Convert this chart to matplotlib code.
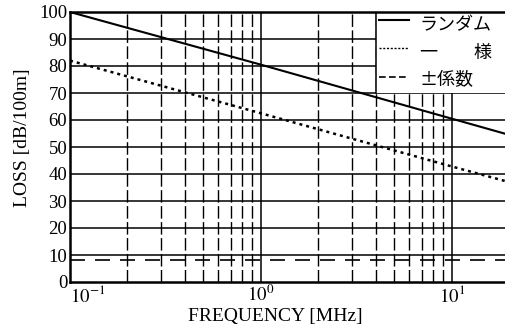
import matplotlib
matplotlib.use("Agg")
import matplotlib.pyplot as plt
import numpy as np
from matplotlib.patches import Rectangle

# Cable loss vs frequency
freq_mhz = [0.1, 1.0, 10.0, 20.0]
loss_random = [100.0, 80.5, 60.5, 54.5]
loss_uniform = [82.0, 62.5, 42.8, 37.0]
loss_pm_coef = [8.2, 8.2, 8.2, 8.2]

series_labels = ["ランダム", "一　　様", "±係数"]
y_ticks = [0, 10, 20, 30, 40, 50, 60, 70, 80, 90, 100]
x_major = [0.1, 1.0, 10.0]
x_major_labels = [r"$10^{-1}$", r"$10^{0}$", r"$10^{1}$"]

plt.rcParams["font.family"] = ["Liberation Serif", "DejaVu Serif"]
plt.rcParams["mathtext.fontset"] = "stix"

fig = plt.figure(figsize=(5.06, 3.36), dpi=100)
ax = fig.add_axes([70 / 506, 1 - 282 / 336, 1 - 70 / 506 + 0.002, (282 - 12) / 336])
ax.set_xscale("log")
ax.set_xlim(0.1, 19.5)
ax.set_ylim(0, 100)

# grid: solid horizontal, broken vertical minor, solid vertical major
for y in y_ticks[1:]:
    ax.axhline(y, color="black", lw=1.1, zorder=1)
minors = [m * d for d in (0.1, 1.0, 10.0) for m in range(2, 10) if m * d < 19.5]
for x in minors:
    ax.axvline(x, color="black", lw=1.0, ls=(0, (9, 2.5)), zorder=1)
for x in x_major[1:]:
    ax.axvline(x, color="black", lw=1.1, zorder=1)

# blank area holding the legend
ax.add_patch(Rectangle((4.0, 70.0), 20.0, 31.0, facecolor="white", edgecolor="none", zorder=2))
ax.plot([4.0, 4.0], [70, 100], color="black", lw=1.1, zorder=3)

ax.plot(freq_mhz, loss_random, color="black", lw=1.5, zorder=4)
ax.plot(freq_mhz, loss_uniform, color="black", lw=1.8, ls=(0, (1.2, 1.6)), zorder=4)
ax.plot(freq_mhz, loss_pm_coef, color="black", lw=1.2, ls=(0, (9, 6)), zorder=4)

# legend entries
styles = [dict(lw=1.5, ls="-"), dict(lw=1.0, ls=(0, (1.5, 1.2))), dict(lw=1.2, ls=(0, (4, 2)))]
handle_y = [97.0, 86.7, 76.0]
text_y = [95.2, 84.8, 74.8]
for lab, st, hy, ty in zip(series_labels, styles, handle_y, text_y):
    ax.plot([4.15, 6.0], [hy, hy], color="black", zorder=5, **st)
    ax.text(6.8, ty, lab, ha="left", va="center", fontsize=13,
            family=["Noto Sans CJK JP", "DejaVu Sans"], zorder=5)

for s in ax.spines.values():
    s.set_linewidth(1.8)
ax.spines["right"].set_visible(False)

ax.set_yticks(y_ticks)
ax.set_yticklabels([str(v) for v in y_ticks], fontsize=13.5)
ax.set_xticks(x_major)
ax.set_xticklabels(x_major_labels, fontsize=13.5)
ax.xaxis.set_minor_locator(matplotlib.ticker.NullLocator())
ax.tick_params(length=0, pad=2)
ax.get_xticklabels()[0].set_ha("left")

fig.text(275 / 506, 1 - 316 / 336, "FREQUENCY [MHz]", ha="center", va="center", fontsize=14)
fig.text(23 / 506, 1 - 138 / 336, "LOSS [dB/100m]", ha="center", va="center",
         rotation=90, fontsize=14)

fig.savefig("out.png", dpi=100)
